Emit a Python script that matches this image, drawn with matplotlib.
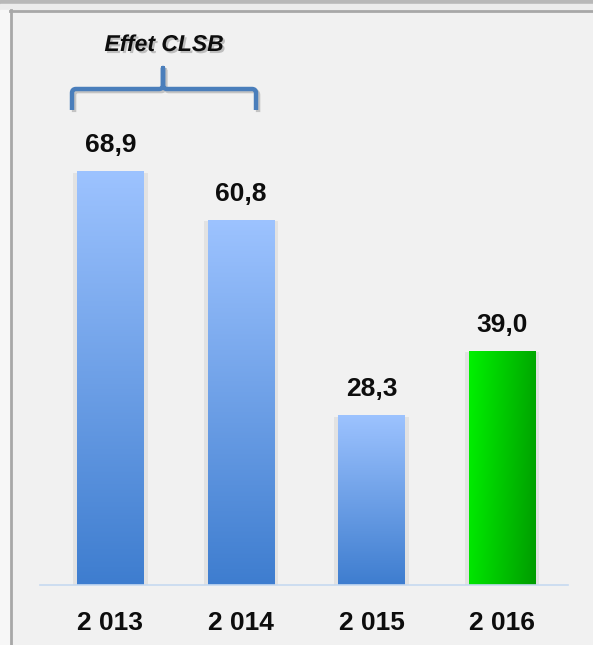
import numpy as np
import matplotlib
matplotlib.use("Agg")
import matplotlib.pyplot as plt
from matplotlib.patches import Rectangle
from matplotlib.path import Path
from matplotlib.patches import PathPatch
from matplotlib.colors import LinearSegmentedColormap
import matplotlib.patheffects as pe

years = ["2 013", "2 014", "2 015", "2 016"]
values = [68.9, 60.8, 28.3, 39.0]
labels = ["68,9", "60,8", "28,3", "39,0"]
annotation = "Effet CLSB"

W, H = 593, 645
fig = plt.figure(figsize=(W / 100, H / 100), dpi=100, facecolor="#f1f1f1")

def fx(px):
    return px / W

def fy(py):
    return 1 - py / H

# window-like frame decoration
fig.patches.append(Rectangle((0, fy(4)), 1, 4 / H, transform=fig.transFigure, color="#b8b8b8", zorder=0))
fig.patches.append(Rectangle((0, fy(10)), 1, 6 / H, transform=fig.transFigure, color="#ececec", zorder=0))
fig.patches.append(Rectangle((0, 0), fx(10), fy(10), transform=fig.transFigure, color="#f7f7f7", zorder=0))
fig.lines.append(plt.Line2D([fx(10), 1], [fy(11), fy(11)], transform=fig.transFigure, color="#a8a8a8", lw=2))
fig.lines.append(plt.Line2D([fx(11), fx(11)], [0, fy(10)], transform=fig.transFigure, color="#a8a8a8", lw=2))

ax = fig.add_axes([fx(40), 1 - 585 / H, (568 - 40) / W, (585 - 20) / H])
ax.set_facecolor("none")
x = np.arange(len(years))
ax.set_xlim(-0.54, 3.506)
ax.set_ylim(0, 94.0)
width = 0.51

# soft shadow behind bars
for xi, v in zip(x, values):
    ax.add_patch(Rectangle((xi - width / 2 - 0.03, -0.6), width + 0.06, v + 0.3,
                           facecolor="#e2e2e2", edgecolor="none", zorder=1))

bars = ax.bar(x, values, width=width, facecolor="none", edgecolor="none", zorder=2)

blue = LinearSegmentedColormap.from_list("b", ["#3e7dcf", "#9dc3ff"])
green = LinearSegmentedColormap.from_list("g", ["#00f200", "#009c00"])
for i, (b, v) in enumerate(zip(bars, values)):
    x0 = b.get_x()
    w = b.get_width()
    if i < 3:
        grad = np.linspace(0, 1, 256).reshape(-1, 1)
        im = ax.imshow(grad, cmap=blue, origin="lower", extent=(x0, x0 + w, 0, v),
                       aspect="auto", zorder=3)
    else:
        gx = np.linspace(0, 1, 256)
        gy = np.linspace(0, 1, 64)
        grad = 0.85 * gx[None, :] + 0.15 * (1 - gy[:, None])
        im = ax.imshow(grad, cmap=green, origin="lower", extent=(x0, x0 + w, 0, v),
                       aspect="auto", zorder=3)
    im.set_clip_path(b)
    ax.annotate(labels[i], (x[i], v), xytext=(0, 13.7), textcoords="offset points",
                ha="center", va="baseline", fontsize=19, fontweight="bold",
                family="Liberation Sans", color="#0d0d0d", zorder=5)

for s in ["top", "left", "right"]:
    ax.spines[s].set_visible(False)
ax.spines["bottom"].set_color("#c6d9f0")
ax.spines["bottom"].set_linewidth(1.2)
ax.spines["bottom"].set_zorder(4)
ax.set_yticks([])
ax.set_xticks(x)
ax.set_xticklabels(years, fontsize=19, fontweight="bold", family="Liberation Sans", color="#0d0d0d")
ax.tick_params(axis="x", length=0, pad=19)
ax.set_aspect("auto")

# bracket annotation
def P(px, py):
    return (fx(px), fy(py))

r = 4
verts = [P(72, 110), P(72, 89 + r), P(72, 89), P(72 + r, 89), P(163 - r, 89), P(163, 89),
         P(163, 89 - r), P(163, 68), P(163, 89 - r), P(163, 89), P(163 + r, 89),
         P(256 - r, 89), P(256, 89), P(256, 89 + r), P(256, 110)]
codes = [Path.MOVETO, Path.LINETO, Path.CURVE3, Path.CURVE3, Path.LINETO, Path.CURVE3, Path.CURVE3,
         Path.LINETO, Path.LINETO, Path.CURVE3, Path.CURVE3, Path.LINETO, Path.CURVE3, Path.CURVE3,
         Path.LINETO]
bracket = PathPatch(Path(verts, codes), transform=fig.transFigure, facecolor="none",
                    edgecolor="#4a7ebb", lw=3.2, capstyle="butt", joinstyle="round",
                    path_effects=[pe.SimpleLineShadow(offset=(1.5, -1.5), shadow_color="gray", alpha=0.4),
                                  pe.Normal()])
fig.patches.append(bracket)

fig.text(fx(164), fy(51), annotation, ha="center", va="baseline", fontsize=16.5,
         fontweight="bold", style="italic", family="Liberation Sans", color="#0d0d0d",
         path_effects=[pe.withSimplePatchShadow(offset=(1.5, -1.5), shadow_rgbFace="gray", alpha=0.45)])

fig.savefig("out.png", dpi=100, facecolor=fig.get_facecolor())
